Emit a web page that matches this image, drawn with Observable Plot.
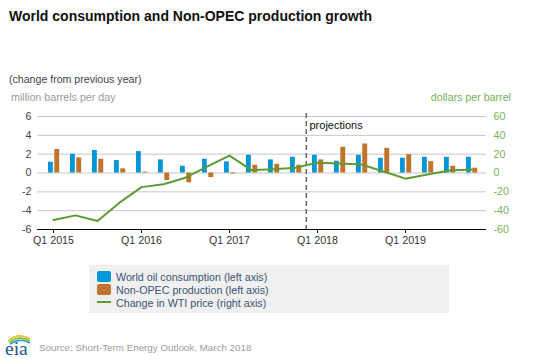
<!DOCTYPE html>
<html>
<head>
<meta charset="utf-8">
<script src="https://cdn.jsdelivr.net/npm/d3@7"></script>
<script src="https://cdn.jsdelivr.net/npm/@observablehq/plot@0.6"></script>
<style>
  html, body { margin: 0; padding: 0; background: #fff; }
  #wrap { position: relative; width: 538px; height: 359px; overflow: hidden; font-family: "Liberation Sans", Arial, sans-serif; }
  .abs { position: absolute; white-space: nowrap; }
  #title { left: 9px; top: 8px; font-size: 14px; font-weight: bold; color: #111; }
  #sub { left: 9px; top: 73px; font-size: 10.6px; color: #444; }
  #lunit { left: 11px; top: 91px; font-size: 10.7px; color: #9a9a9a; }
  #runit { right: 27px; top: 91px; font-size: 10.7px; color: #79b05a; }
  #chart { left: 0; top: 100px; }
  #legend { left: 89px; top: 265px; width: 360px; height: 48px; background: #f0f0f0; }
  .sw { position: absolute; left: 8px; width: 14px; height: 11px; border-radius: 2px; }
  .ln { position: absolute; left: 8px; width: 14px; height: 2px; }
  .lt { position: absolute; left: 27px; font-size: 10.7px; color: #3a5472; line-height: 12px; }
  #src { left: 39px; top: 342px; font-size: 9.8px; color: #9d9d9d; }
  #logo { left: 3px; top: 330px; }
</style>
</head>
<body>
<div id="wrap">
  <div id="title" class="abs">World consumption and Non-OPEC production growth</div>
  <div id="sub" class="abs">(change from previous year)</div>
  <div id="lunit" class="abs">million barrels per day</div>
  <div id="runit" class="abs">dollars per barrel</div>
  <div id="chart" class="abs"></div>
  <div id="legend" class="abs"></div>
  <div id="logo" class="abs">
    <svg width="32" height="29" viewBox="0 0 32 29">
      <path d="M5 11 Q15 2 27 9" fill="none" stroke="#f2c318" stroke-width="1.6"/>
      <path d="M6 12.5 Q16 4.5 27 11" fill="none" stroke="#7cbf3f" stroke-width="1.6"/>
      <path d="M7 14 Q17 7 27 13" fill="none" stroke="#2a9bd6" stroke-width="1.6"/>
      <text x="2" y="24.5" font-family="Liberation Serif, DejaVu Serif, serif" font-size="19.5" fill="#1b5a8a">eia</text>
    </svg>
  </div>
  <div id="src" class="abs">Source: Short-Term Energy Outlook, March 2018</div>
</div>
<script>
const quarters = ["2015Q1","2015Q2","2015Q3","2015Q4","2016Q1","2016Q2","2016Q3","2016Q4",
  "2017Q1","2017Q2","2017Q3","2017Q4","2018Q1","2018Q2","2018Q3","2018Q4",
  "2019Q1","2019Q2","2019Q3","2019Q4"];
const consumption = [1.14,1.99,2.4,1.32,2.27,1.39,0.72,1.46,1.18,1.88,1.39,1.67,1.88,1.25,1.88,1.57,1.57,1.67,1.67,1.67];
const nonOpec = [2.5,1.6,1.46,0.44,0.1,-0.8,-1.04,-0.48,-0.1,0.83,0.93,0.83,1.39,2.73,3.08,2.62,1.95,1.21,0.72,0.51];
const wti = [-50,-45,-51,-31.5,-15,-12,-5,7,18.5,3,4,5.5,11,10,9,1.6,-6,-1.6,2.6,3.7];
const xTicks = ["2015Q1","2016Q1","2017Q1","2018Q1","2019Q1"];
const leftTicks = [-6,-4,-2,0,2,4,6];
const gridTicks = [-4,-2,0,2,4,6];
const projectionStart = "2018Q1";
const seriesNames = ["World oil consumption (left axis)","Non-OPEC production (left axis)","Change in WTI price (right axis)"];

const BLUE = "#0096d7", ORANGE = "#c0732b", GREEN = "#5d9b35", GREEN_TXT = "#79b05a";

const data = quarters.map((q, i) => ({q, cons: consumption[i], prod: nonOpec[i], wti: wti[i]}));

const chart = Plot.plot({
  width: 538,
  height: 160,
  marginLeft: 37,
  marginRight: 52,
  marginTop: 16,
  marginBottom: 31,
  style: {fontFamily: "Liberation Sans, Arial, sans-serif", fontSize: "10.7px", background: "transparent", overflow: "visible"},
  x: {type: "band", domain: quarters, padding: 0, axis: null},
  y: {domain: [-6, 6], axis: null},
  marks: [
    Plot.gridY(gridTicks, {stroke: "#c6c6c6", strokeOpacity: 1}),
    Plot.barY(data, {x: "q", y: "cons", fill: BLUE, insetLeft: 6, insetRight: 11.2}),
    Plot.barY(data, {x: "q", y: "prod", fill: ORANGE, insetLeft: 12.3, insetRight: 4.8}),
    Plot.ruleX([projectionStart], {dx: -11.2, stroke: "#666", strokeWidth: 1.5, strokeDasharray: "5,3", insetTop: -3}),
    Plot.text(["projections"], {x: () => projectionStart, frameAnchor: "top", dx: -8, dy: 5, textAnchor: "start", fill: "#111", fontSize: 11}),
    Plot.lineY(data, {x: "q", y: d => d.wti / 10, stroke: GREEN, strokeWidth: 2}),
    Plot.ruleY([-6], {stroke: "#000", strokeWidth: 1.2}),
    Plot.axisY({ticks: leftTicks, tickSize: 0, tickPadding: 6, tickFormat: d => String(d), fill: "#444", label: null}),
    Plot.axisY({anchor: "right", ticks: leftTicks, tickSize: 0, tickPadding: 7, tickFormat: d => String(d * 10), fill: GREEN_TXT, label: null}),
    Plot.axisX({ticks: xTicks, tickSize: 4, tickPadding: 3, stroke: "#000", fill: "#333", tickFormat: q => "Q" + q.slice(5) + " " + q.slice(0, 4), label: null})
  ]
});
document.getElementById("chart").appendChild(chart);

const legend = document.getElementById("legend");
const rows = [
  {type: "sw", color: BLUE, top: 6, textTop: 6},
  {type: "sw", color: ORANGE, top: 19, textTop: 19},
  {type: "ln", color: GREEN, top: 36, textTop: 32}
];
rows.forEach((r, i) => {
  const s = document.createElement("div");
  s.className = r.type;
  s.style.background = r.color;
  s.style.top = r.top + "px";
  legend.appendChild(s);
  const t = document.createElement("div");
  t.className = "lt";
  t.style.top = r.textTop + "px";
  t.textContent = seriesNames[i];
  legend.appendChild(t);
});
</script>
</body>
</html>
